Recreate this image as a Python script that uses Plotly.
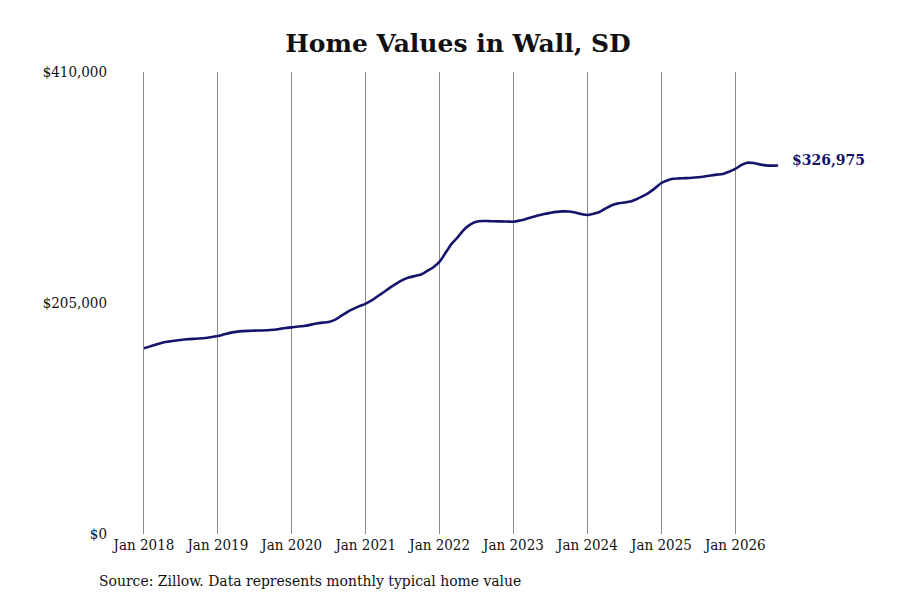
import pandas as pd
import plotly.graph_objects as go

# monthly typical home value, Jan 2018 .. Aug 2026
start_month = "2018-01-01"
values_2018 = [164800, 166500, 168200, 169800, 170700, 171500, 172200, 172800, 173200, 173500, 174000, 174800]
values_2019 = [175700, 177200, 178500, 179400, 180000, 180300, 180500, 180600, 180800, 181200, 182000, 182800]
values_2020 = [183400, 184100, 184600, 185600, 186800, 187600, 188100, 190000, 193500, 197000, 199800, 202200]
values_2021 = [204500, 207500, 211000, 214800, 218600, 222200, 225300, 227600, 229000, 230300, 233500, 236800]
values_2022 = [241700, 250000, 257500, 263500, 270000, 274500, 277000, 277800, 277700, 277500, 277400, 277300]
values_2023 = [277200, 278200, 279400, 281000, 282600, 284000, 285000, 285900, 286300, 286200, 285300, 284000]
values_2024 = [283100, 284300, 285800, 289000, 291800, 293400, 294200, 295000, 297200, 299800, 303000, 307000]
values_2025 = [311500, 314000, 315300, 315600, 315800, 316100, 316600, 317300, 318200, 318900, 319500, 321500]
values_2026 = [324000, 327500, 329500, 329200, 328000, 327100, 326900, 326975]

values = (values_2018 + values_2019 + values_2020 + values_2021 + values_2022
          + values_2023 + values_2024 + values_2025 + values_2026)
dates = pd.date_range(start_month, periods=len(values), freq="MS")

tick_dates = pd.date_range("2018-01-01", "2026-01-01", freq="YS")
tick_labels = [d.strftime("Jan %Y") for d in tick_dates]
y_ticks = [0, 205000, 410000]

NAVY = "#14146b"
FONT = "DejaVu Serif Condensed, DejaVu Serif, serif"

fig = go.Figure()
fig.add_trace(go.Scatter(
    x=dates, y=values, mode="lines",
    line=dict(color=NAVY, width=2.6, shape="spline", smoothing=0.8),
    hoverinfo="x+y", showlegend=False,
))

fig.add_annotation(
    x=dates[-1], y=values[-1], text=f"<b>${values[-1]:,}</b>",
    xanchor="left", yanchor="middle", xshift=12, yshift=6, showarrow=False,
    font=dict(family="DejaVu Serif, serif", size=14, color=NAVY),
)
fig.add_annotation(
    x=-0.0225, y=-0.102, xref="paper", yref="paper",
    text="Source: Zillow. Data represents monthly typical home value",
    xanchor="left", yanchor="middle", showarrow=False,
    font=dict(family=FONT, size=15.5, color="#111111"),
)

fig.update_layout(
    width=900, height=600,
    margin=dict(l=104, r=128, t=64, b=74),
    paper_bgcolor="white", plot_bgcolor="white",
    font=dict(family=FONT, size=15, color="#111111"),
    title=dict(text="<b>Home Values in Wall, SD</b>", x=0.5, xanchor="center",
               y=0.941, yanchor="middle",
               font=dict(family="DejaVu Serif, serif", size=25, color="#111111")),
    xaxis=dict(
        range=["2017-07-27", "2026-08-10"],
        tickvals=tick_dates, ticktext=tick_labels,
        showgrid=True, gridcolor="#8c8c8c", gridwidth=1,
        showline=False, zeroline=False, ticks="",
        tickfont=dict(size=15),
    ),
    yaxis=dict(
        range=[0, 410000], tickvals=y_ticks,
        tickformat="$,.0f", showgrid=False, zeroline=False,
        showline=False, ticks="", tickfont=dict(size=15),
        ticklabelstandoff=4,
    ),
)

fig.write_html("out.html")
